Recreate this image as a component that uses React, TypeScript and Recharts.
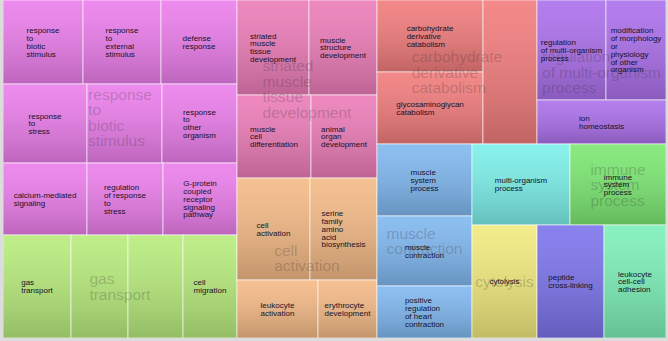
import { Treemap } from "recharts";

const responseTerms = [
  "response to biotic stimulus",
  "response to external stimulus",
  "defense response",
  "response to stress",
  "calcium-mediated signaling",
  "",
  "response to other organism",
  "regulation of response to stress",
  "G-protein coupled receptor signaling pathway",
];
const responseSizes = [6720, 6552, 6384, 6636, 6048, 5925, 5925, 5472, 5328];

const gasTerms = ["gas transport", "", "", "cell migration"];
const gasSizes = [7004, 5871, 5665, 5562];

const muscleDevTerms = [
  "striated muscle tissue development",
  "muscle structure development",
  "muscle cell differentiation",
  "animal organ development",
];
const muscleDevSizes = [6840, 6460, 6142, 5478];

const activationTerms = [
  "cell activation",
  "serine family amino acid biosynthesis",
  "leukocyte activation",
  "erythrocyte development",
];
const activationSizes = [7446, 6834, 4698, 3422];

const catabolismTerms = ["carbohydrate derivative catabolism", "glycosaminoglycan catabolism", ""];
const catabolismSizes = [7632, 7632, 7776];

const multiOrgTerms = [
  "regulation of multi-organism process",
  "modification of morphology or physiology of other organism",
  "ion homeostasis",
];
const multiOrgSizes = [6900, 6000, 5676];

const contractionTerms = [
  "muscle system process",
  "muscle contraction",
  "positive regulation of heart contraction",
];
const contractionSizes = [6840, 6650, 4940];

const singleTerms = [
  "multi-organism process",
  "immune system process",
  "cytolysis",
  "peptide cross-linking",
  "leukocyte cell-cell adhesion",
];
const singleSizes = [7938, 7776, 7345, 7571, 7006];
const singleHasTitle = [false, true, true, false, false];

const groupLabels = [
  "response to biotic stimulus",
  "gas transport",
  "striated muscle tissue development",
  "cell activation",
  "carbohydrate derivative catabolism",
  "regulation of multi-organism process",
  "muscle contraction",
];

const GROUP_TONES = ["#ec7eec", "#b8ec7c", "#ec7cb8", "#f4ba86", "#f27c7c", "#ac70ec", "#80b8f0"];
const SINGLE_TONES = ["#7cf0ea", "#7ce872", "#f2ea7e", "#7c74ec", "#7cf0b8"];

type TNode = {
  name: string;
  kind: string;
  size?: number;
  tone?: string;
  title?: boolean;
  children?: TNode[];
};

function terms(names: string[], sizes: number[], tone: string): TNode[] {
  return names.map((name, i) => ({ name, size: sizes[i], kind: "term", tone }));
}

const termLists: [string[], number[]][] = [
  [responseTerms, responseSizes],
  [gasTerms, gasSizes],
  [muscleDevTerms, muscleDevSizes],
  [activationTerms, activationSizes],
  [catabolismTerms, catabolismSizes],
  [multiOrgTerms, multiOrgSizes],
  [contractionTerms, contractionSizes],
];

const data: TNode[] = [
  ...termLists.map(([names, sizes], i) => ({
    name: groupLabels[i],
    kind: "group",
    children: terms(names, sizes, GROUP_TONES[i]),
  })),
  {
    name: "",
    kind: "wrap",
    children: singleTerms.map((name, i) => ({
      name,
      size: singleSizes[i],
      kind: "term",
      tone: SINGLE_TONES[i],
      title: singleHasTitle[i],
    })),
  },
];

const FONT = '"Liberation Sans", Arial, sans-serif';
let measureCtx: CanvasRenderingContext2D | null = null;
function textWidth(s: string, size: number) {
  if (!measureCtx) measureCtx = document.createElement("canvas").getContext("2d");
  if (!measureCtx) return s.length * size * 0.5;
  measureCtx.font = `${size}px ${FONT}`;
  return measureCtx.measureText(s).width;
}

// one word per line, "of" sticks to the next word
function wrapLabel(name: string) {
  const words = name.split(" ");
  const lines: string[] = [];
  for (let i = 0; i < words.length; i++) {
    if (words[i] === "of" && i + 1 < words.length) {
      lines.push("of " + words[i + 1]);
      i++;
    } else lines.push(words[i]);
  }
  return lines;
}

function Block({ name, cx, cy, size, lh, fill, opacity }: any) {
  const lines = wrapLabel(name);
  const w = Math.max(...lines.map((l) => textWidth(l, size)));
  const left = cx - w / 2;
  const top = cy - ((lines.length - 1) * lh) / 2;
  return (
    <text fontFamily={FONT} fontSize={size} fill={fill} fillOpacity={opacity}>
      {lines.map((l, i) => (
        <tspan key={i} x={left} y={top + i * lh + size * 0.36}>
          {l}
        </tspan>
      ))}
    </text>
  );
}

function Tile(props: any) {
  const { layer, x, y, width, height, kind, tone, name, title } = props;
  if (!kind || kind === "wrap") return null;
  const cx = x + width / 2;
  const cy = y + height / 2;
  if (layer === "cells") {
    if (kind !== "term") return null;
    return (
      <g>
        <rect x={x} y={y} width={width} height={height} fill={tone} />
        <rect
          x={x}
          y={y}
          width={width}
          height={height}
          fill="url(#tileShade)"
          stroke="#ffffff"
          strokeOpacity={0.6}
          strokeWidth={1}
        />
      </g>
    );
  }
  return (
    <g>
      {(kind === "group" || title) && (
        <Block name={name} cx={cx} cy={cy} size={15.5} lh={15.5} fill="#2a2a2a" opacity={0.24} />
      )}
      {kind === "term" && name && (
        <Block name={name} cx={cx} cy={cy} size={8} lh={7.8} fill="#161228" opacity={1} />
      )}
    </g>
  );
}

export default function App() {
  return (
    <div
      style={{
        position: "fixed",
        left: 0,
        top: 0,
        width: 668,
        height: 341,
        background: "#dcdcdc",
      }}
    >
      <svg width={0} height={0} style={{ position: "absolute" }}>
        <defs>
          <linearGradient id="tileShade" x1="0" y1="0" x2="0" y2="1">
            <stop offset="0" stopColor="#ffffff" stopOpacity={0.1} />
            <stop offset="1" stopColor="#000000" stopOpacity={0.2} />
          </linearGradient>
        </defs>
      </svg>
      <div style={{ position: "absolute", left: 3, top: 0 }}>
        <Treemap
          width={663}
          height={338}
          data={data}
          dataKey="size"
          aspectRatio={1.06}
          isAnimationActive={false}
          content={(p: any) => <Tile {...p} layer="cells" />}
        />
      </div>
      <div style={{ position: "absolute", left: 3, top: 0 }}>
        <Treemap
          width={663}
          height={338}
          data={data}
          dataKey="size"
          aspectRatio={1.06}
          isAnimationActive={false}
          content={(p: any) => <Tile {...p} layer="labels" />}
        />
      </div>
    </div>
  );
}
